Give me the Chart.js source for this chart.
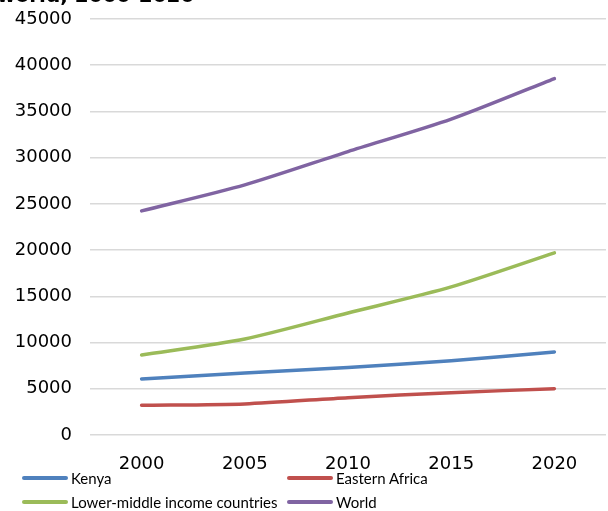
<!DOCTYPE html>
<html>
<head>
<meta charset="utf-8">
<script src="https://cdn.jsdelivr.net/npm/chart.js@4"></script>
<style>
  html, body { margin: 0; padding: 0; background: #fff; }
  #wrap { position: relative; width: 608px; height: 511px; overflow: hidden; }
  #title {
    position: absolute; left: -3px; top: -17px;
    font: bold 20px "DejaVu Sans", sans-serif; color: #000; white-space: nowrap;
  }
  #legend {
    position: absolute; left: 22px; top: 467px; width: 590px;
    display: grid; grid-template-columns: 265px 300px; row-gap: 2px;
    font: 15px Lato, sans-serif; color: #000;
  }
  .item { display: flex; align-items: center; height: 22px; white-space: nowrap; }
  .swatch { width: 46px; height: 4px; border-radius: 2px; margin-right: 3px; }
</style>
</head>
<body>
<div id="wrap">
  <div id="title">world, 2000-2020</div>
  <canvas id="chart" width="608" height="511"></canvas>
  <div id="legend"></div>
</div>
<script>
const years = ['2000', '2005', '2010', '2015', '2020'];
const kenya = [6060, 6710, 7290, 8040, 8980];
const easternAfrica = [3210, 3360, 4040, 4580, 5010];
const lowerMiddle = [8660, 10390, 13200, 16020, 19700];
const world = [24240, 27060, 30660, 34170, 38560];

const seriesNames = ['Kenya', 'Eastern Africa', 'Lower-middle income countries', 'World'];
const seriesColors = ['#4F81BD', '#C0504D', '#9BBB59', '#8064A2'];
const seriesValues = [kenya, easternAfrica, lowerMiddle, world];

const fontFamily = '"DejaVu Sans", sans-serif';

const ctx = document.getElementById('chart').getContext('2d');
const chart = new Chart(ctx, {
    type: 'line',
    data: {
        labels: years,
        datasets: seriesValues.map((vals, i) => ({
            label: seriesNames[i],
            data: vals,
            borderColor: seriesColors[i],
            backgroundColor: seriesColors[i],
            borderWidth: 3.5,
            borderCapStyle: 'round',
            pointRadius: 0,
            tension: 0.25,
            fill: false
        }))
    },
    options: {
        responsive: false,
        animation: false,
        layout: { padding: { top: 19, right: 2, bottom: 0, left: 0 } },
        plugins: {
            legend: { display: false },
            tooltip: { enabled: false }
        },
        scales: {
            x: {
                offset: true,
                grid: { display: false, drawTicks: false },
                border: { display: false },
                ticks: { color: '#000', font: { family: fontFamily, size: 18 }, padding: 19, maxRotation: 0 },
                afterFit: (axis) => { axis.height = 76; }
            },
            y: {
                min: 0,
                max: 45000,
                grid: { color: '#d9d9d9', lineWidth: 1.5, drawTicks: false },
                border: { display: false },
                ticks: {
                    stepSize: 5000,
                    color: '#000',
                    font: { family: fontFamily, size: 18 },
                    padding: 18,
                    callback: (v) => String(v)
                },
                afterFit: (axis) => {
                    axis.width = 90;
                    axis.paddingTop = 0;
                    axis.paddingBottom = 0;
                }
            }
        }
    }
});

// legend built from the datasets, laid out in two columns
const legendEl = document.getElementById('legend');
chart.data.datasets.forEach(ds => {
    const item = document.createElement('div');
    item.className = 'item';
    const sw = document.createElement('span');
    sw.className = 'swatch';
    sw.style.background = ds.borderColor;
    const txt = document.createElement('span');
    txt.textContent = ds.label;
    item.appendChild(sw);
    item.appendChild(txt);
    legendEl.appendChild(item);
});
</script>
</body>
</html>
